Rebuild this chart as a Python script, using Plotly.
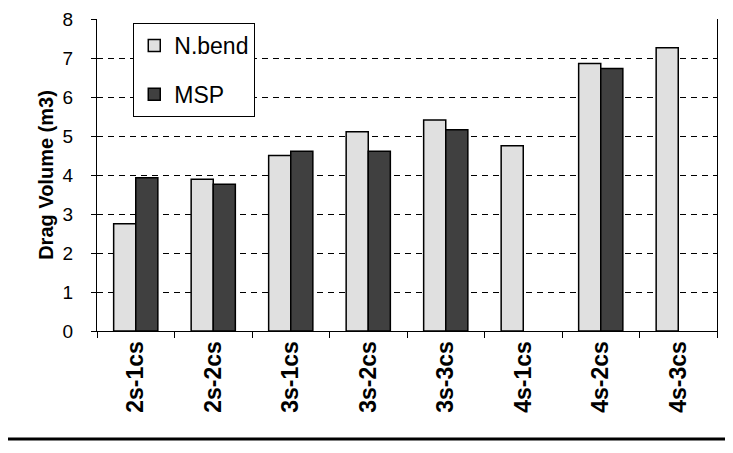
import plotly.graph_objects as go

categories = ["2s-1cs", "2s-2cs", "3s-1cs", "3s-2cs", "3s-3cs", "4s-1cs", "4s-2cs", "4s-3cs"]
nbend = [2.75, 3.89, 4.50, 5.11, 5.41, 4.75, 6.86, 7.26]
msp = [3.93, 3.76, 4.61, 4.61, 5.16, None, 6.73, None]
y_ticks = [0, 1, 2, 3, 4, 5, 6, 7, 8]

# page has an 8px body margin, so the figure is shrunk/shifted to compensate
OFF = 8
W, H = 733 - OFF, 453 - OFF
ml, mr, mt = 97 - OFF, 16, 11
ph = 331 - OFF - mt
mb = H - mt - ph
pw = W - ml - mr

fig = go.Figure()
fig.add_trace(go.Bar(x=categories, y=nbend, name="N.bend", legendgroup="a",
                     marker=dict(color="#E0E0E0", line=dict(color="black", width=1.5))))
fig.add_trace(go.Bar(x=categories, y=msp, name="MSP", legendgroup="b",
                     marker=dict(color="#404040", line=dict(color="black", width=1.5))))

line_y = (331 - 439) / ph
fig.add_shape(type="line", xref="paper", yref="paper", x0=-ml / pw, x1=1 + (mr + 2) / pw,
              y0=line_y, y1=line_y, line=dict(color="black", width=3))

fig.update_layout(
    width=W, height=H,
    margin=dict(l=ml, r=mr, t=mt, b=mb, autoexpand=False),
    paper_bgcolor="white", plot_bgcolor="white",
    barmode="group", bargap=0.43, bargroupgap=0,
    font=dict(family="Liberation Sans, Arial", color="black"),
    legend=dict(x=0.0585, y=(331 - 23) / ph, xanchor="left", yanchor="top",
                bordercolor="black", borderwidth=1, bgcolor="white",
                font=dict(size=23), traceorder="grouped", tracegroupgap=16),
    xaxis=dict(showline=True, linecolor="black", linewidth=1, automargin=False,
               ticks="outside", ticklen=6, tickcolor="black", tickson="boundaries",
               tickangle=-90, tickfont=dict(size=23, family="Liberation Sans, Arial", weight="bold"),
               showgrid=False),
    yaxis=dict(range=[0, 8], tickvals=y_ticks, showline=True, mirror=True, automargin=False,
               linecolor="black", linewidth=1, ticklabeloverflow="allow",
               ticks="outside", ticklen=5, tickcolor="black", ticklabelstandoff=14,
               tickfont=dict(size=19),
               showgrid=True, gridcolor="black", gridwidth=1, griddash="6px,5px",
               zeroline=False,
               title=dict(text="Drag Volume (m3)", font=dict(size=20, weight="bold"), standoff=3)),
)

fig.write_html("out.html")
